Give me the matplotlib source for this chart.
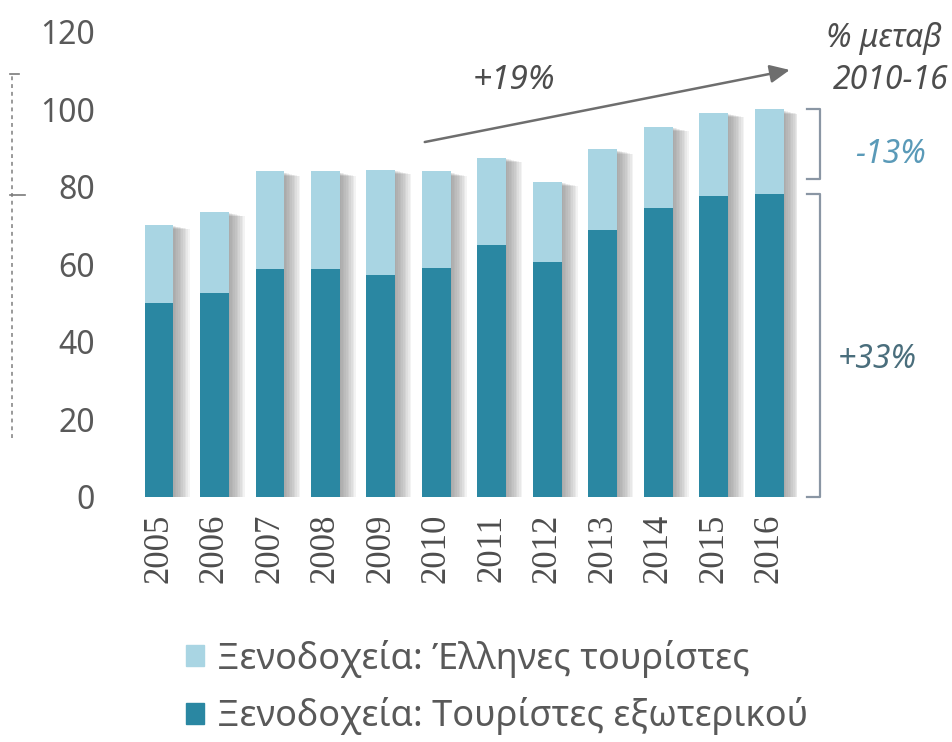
import matplotlib.pyplot as plt
from matplotlib.patches import Patch
from matplotlib.lines import Line2D

years = ['2005', '2006', '2007', '2008', '2009', '2010',
         '2011', '2012', '2013', '2014', '2015', '2016']
foreign = [50.0, 52.7, 58.9, 58.9, 57.4, 59.0, 65.1, 60.7, 69.0, 74.7, 77.8, 78.2]
greek = [20.3, 20.9, 25.1, 25.1, 27.1, 25.0, 22.5, 20.7, 20.7, 20.9, 21.4, 21.8]
yticks = [0, 20, 40, 60, 80, 100, 120]

label_greek = 'Ξενοδοχεία: Έλληνες τουρίστες'
label_foreign = 'Ξενοδοχεία: Τουρίστες εξωτερικού'

dark = '#2a87a2'
light = '#a9d5e3'
grey_txt = '#595959'

plt.rcParams['font.family'] = ['Noto Sans', 'DejaVu Sans']

fig = plt.figure(figsize=(9.53, 7.42), dpi=100)
ax = fig.add_axes([0.1232, 0.3302, 0.7131, 0.6267])

x = list(range(len(years)))
total = [f + g for f, g in zip(foreign, greek)]
w = 0.52

# soft drop shadow to the right of each bar
for k in range(10):
    off = 0.02 + k * 0.03
    ax.bar([i + off for i in x], [t - 0.3 - 0.1 * k for t in total], width=w,
           color='#7a7a7a', alpha=0.09, linewidth=0, zorder=1)

ax.bar(x, foreign, width=w, color=dark, linewidth=0, zorder=3)
ax.bar(x, greek, bottom=foreign, width=w, color=light, linewidth=0, zorder=3)

ax.set_xlim(-0.75, 11.5)
ax.set_ylim(0, 120)
ax.set_yticks(yticks)
ax.set_xticks(x)
ax.set_xticklabels(years, rotation=90, family=['Liberation Serif', 'DejaVu Serif'],
                   fontsize=25, color='#4d4d4d')
ax.tick_params(axis='x', length=0, pad=12)
ax.tick_params(axis='y', length=0, pad=16, labelsize=23, labelcolor=grey_txt)
for s in ax.spines.values():
    s.set_visible(False)

# brackets for 2010-16 change of each group
bx, bl = 11.92, 11.68
bc = '#8a96a4'
top_lo = foreign[-1] + 3.8
ax.plot([bl, bx, bx, bl], [top_lo, top_lo, total[-1], total[-1]],
        color=bc, lw=1.6, clip_on=False, zorder=4)
ax.plot([bl, bx, bx, bl], [0, 0, foreign[-1], foreign[-1]],
        color=bc, lw=1.6, clip_on=False, zorder=4)

g_chg = (greek[-1] / greek[5] - 1) * 100
f_chg = (foreign[-1] / foreign[5] - 1) * 100
t_chg = (total[-1] / total[5] - 1) * 100

ax.text(13.18, 88.3, '%+.0f%%' % g_chg, ha='center', va='center',
        fontsize=23, style='italic', color='#5a9ab8', clip_on=False)
ax.text(12.95, 35.4, '%+.0f%%' % f_chg, ha='center', va='center',
        fontsize=23, style='italic', color='#4a6e7c', clip_on=False)

ax.annotate('', xy=(11.37, 110.2), xytext=(4.79, 91.6),
            arrowprops=dict(arrowstyle='-|>,head_length=1.2,head_width=0.55',
                            color='#6e6e6e', lw=1.8, shrinkA=0, shrinkB=0))
ax.text(6.4, 107.6, '%+.0f%%' % t_chg, ha='center', va='center',
        fontsize=24, style='italic', color='#4d4d4d')

fig.text(0.988, 0.948, '% μεταβ', ha='right', va='center', fontsize=23,
         style='italic', color='#4d4d4d')
fig.text(0.995, 0.892, '2010-16', ha='right', va='center', fontsize=23,
         style='italic', color='#4d4d4d')

# dotted guide on the far left
fig.add_artist(Line2D([0.013, 0.013], [0.41, 0.90], color='#9a9a9a', lw=1.4,
                      linestyle=(0, (2, 2))))
fig.add_artist(Line2D([0.011, 0.026], [0.737, 0.737], color='#7a7a7a', lw=1.2))
fig.add_artist(Line2D([0.011, 0.02], [0.90, 0.90], color='#7a7a7a', lw=1.2))

handles = [Patch(color=light, label=label_greek), Patch(color=dark, label=label_foreign)]
fig.legend(handles=handles, loc='upper left', bbox_to_anchor=(0.195, 0.138),
           frameon=False, fontsize=26, labelcolor=grey_txt, handlelength=0.5,
           handleheight=0.5, handletextpad=0.35, labelspacing=0.55,
           borderaxespad=0, borderpad=0)

fig.savefig('out.png', dpi=100)
